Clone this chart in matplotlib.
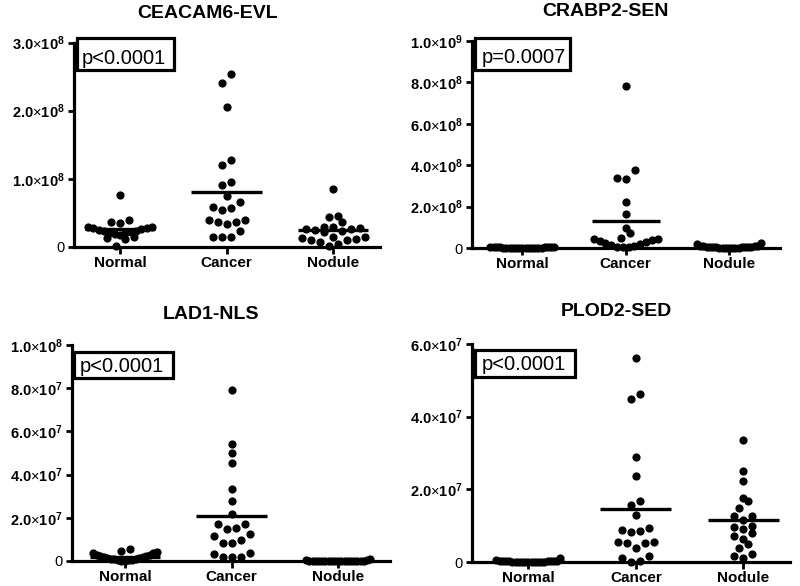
import numpy as np
import matplotlib
matplotlib.use('Agg')
import matplotlib.pyplot as plt
from matplotlib.patches import Rectangle
from matplotlib.ticker import FuncFormatter

plt.rcParams['font.family'] = ['Liberation Sans', 'DejaVu Sans']
plt.rcParams['mathtext.fontset'] = 'custom'
plt.rcParams['mathtext.rm'] = 'Liberation Sans'
plt.rcParams['mathtext.bf'] = 'Liberation Sans:bold'

### data
groups = ['Normal', 'Cancer', 'Nodule']
titles = ['CEACAM6-EVL', 'CRABP2-SEN', 'LAD1-NLS', 'PLOD2-SED']
pvals = ['p<0.0001', 'p=0.0007', 'p<0.0001', 'p<0.0001']

# CEACAM6-EVL, x1e8
ceacam_normal = [0.76, 0.40, 0.37, 0.35, 0.30, 0.29, 0.28, 0.28, 0.27, 0.25, 0.24,
                 0.23, 0.22, 0.21, 0.20, 0.19, 0.17, 0.15, 0.13, 0.12, 0.02]
ceacam_cancer = [2.54, 2.41, 2.05, 1.27, 1.20, 0.96, 0.91, 0.75, 0.66, 0.58, 0.57,
                 0.54, 0.40, 0.39, 0.36, 0.36, 0.34, 0.23, 0.14, 0.14, 0.14]
ceacam_nodule = [0.85, 0.46, 0.44, 0.36, 0.30, 0.29, 0.28, 0.27, 0.26, 0.25, 0.24,
                 0.22, 0.15, 0.14, 0.13, 0.12, 0.11, 0.10, 0.08, 0.05, 0.01]

# CRABP2-SEN, x1e8
crabp_normal = [0.06, 0.05, 0.05, 0.04, 0.04, 0.03, 0.03, 0.03, 0.02, 0.02, 0.02,
                0.02, 0.01, 0.01, 0.01, 0.01, 0.01, 0.01, 0.00, 0.00, 0.00]
crabp_cancer = [7.85, 3.75, 3.38, 3.32, 2.22, 1.65, 0.98, 0.74, 0.48, 0.45, 0.42,
                0.40, 0.35, 0.30, 0.25, 0.20, 0.15, 0.10, 0.07, 0.05, 0.03]
crabp_nodule = [0.25, 0.20, 0.12, 0.10, 0.09, 0.08, 0.07, 0.06, 0.05, 0.05, 0.04,
                0.04, 0.03, 0.03, 0.02, 0.02, 0.02, 0.01, 0.01, 0.01, 0.00]

# LAD1-NLS, x1e7
lad_normal = [0.55, 0.45, 0.42, 0.38, 0.35, 0.30, 0.28, 0.25, 0.22, 0.20, 0.18,
              0.15, 0.12, 0.10, 0.08, 0.07, 0.06, 0.05, 0.04, 0.02, 0.01]
lad_cancer = [7.90, 5.43, 5.00, 4.54, 3.34, 2.77, 2.17, 1.69, 1.69, 1.55, 1.46,
              1.25, 1.15, 0.97, 0.85, 0.85, 0.38, 0.31, 0.20, 0.20, 0.20]
lad_nodule = [0.10, 0.03, 0.03, 0.02, 0.02, 0.02, 0.02, 0.01, 0.01, 0.01, 0.01,
              0.01, 0.01, 0.01, 0.00, 0.00, 0.00, 0.00, 0.00, 0.00, 0.00]

# PLOD2-SED, x1e7
plod_normal = [0.10, 0.05, 0.04, 0.03, 0.03, 0.03, 0.02, 0.02, 0.02, 0.02, 0.01,
               0.01, 0.01, 0.01, 0.01, 0.00, 0.00, 0.00, 0.00, 0.00, 0.00]
plod_cancer = [5.62, 4.63, 4.49, 2.90, 2.37, 1.67, 1.57, 1.30, 0.94, 0.87, 0.85,
               0.82, 0.56, 0.54, 0.52, 0.52, 0.38, 0.17, 0.10, 0.03, 0.01]
plod_nodule = [3.35, 2.50, 2.24, 1.76, 1.69, 1.48, 1.27, 1.16, 1.27, 0.95, 0.90,
               1.00, 0.79, 0.72, 0.63, 0.49, 0.38, 0.22, 0.12, 0.17]

scales = [1e8, 1e8, 1e7, 1e7]
ymax = [3e8, 1e9, 1e8, 6e7]
ystep = [1e8, 2e8, 2e7, 2e7]

panel_data = [
    [ceacam_normal, ceacam_cancer, ceacam_nodule],
    [crabp_normal, crabp_cancer, crabp_nodule],
    [lad_normal, lad_cancer, lad_nodule],
    [plod_normal, plod_cancer, plod_nodule],
]

### layout, in pixels of the 800x586 figure
W, H = 800, 586
axes_px = [(74, 380, 42.5, 247), (472, 780, 41, 248),
           (72, 390, 345, 561), (472, 790, 344, 562)]
xlims = [(-0.432, 2.441), (-0.489, 2.494), (-0.497, 2.485), (-0.524, 2.434)]
title_px = [(208, 14), (605.5, 11), (211, 314.5), (616, 312)]
box_px = [(77, 38, 174, 70), (475, 38, 570, 70), (74, 352, 173, 378), (475, 350, 575, 377)]
ptext_px = [(82, 63.5), (481.5, 63), (80, 371.5), (481.5, 370.5)]


def sci_label(v, pos):
    if v == 0:
        return '0'
    e = int(np.floor(np.log10(v) + 1e-9))
    m = v / 10 ** e
    return r'$\mathbf{%.1f}{\times}\mathbf{10^{%d}}$' % (m, e)


def swarm(vals, ppu_y, ppu_x, row_h=9.0, step=9.0, max_span=64.0):
    # GraphPad-like rows: close values share a row, smallest in the middle
    vals = np.asarray(vals, float)
    order = np.argsort(vals, kind='stable')
    ypx = vals * ppu_y
    offs = np.zeros(len(vals))
    i = 0
    while i < len(order):
        start = ypx[order[i]]
        j = i
        while j < len(order) and ypx[order[j]] - start < row_h:
            j += 1
        row = order[i:j]
        n = len(row)
        sp = step if n < 2 else min(step, max_span / (n - 1))
        slots = (np.arange(n) - (n - 1) / 2) * sp
        slot_order = np.argsort(np.round(np.abs(slots), 6), kind='stable')
        for k, idx in enumerate(row):
            offs[idx] = slots[slot_order[k]]
        i = j
    return offs / ppu_x


fig = plt.figure(figsize=(W / 100, H / 100), dpi=100)

for p in range(4):
    x0, x1, yt, yb = axes_px[p]
    ax = fig.add_axes([x0 / W, 1 - yb / H, (x1 - x0) / W, (yb - yt) / H])
    ax.set_xlim(*xlims[p])
    ax.set_ylim(0, ymax[p])

    # pixels per data unit, for the dot layout
    o = ax.transData.transform((0, 0))
    u = ax.transData.transform((1, scales[p]))
    ppu_x = u[0] - o[0]
    ppu_y = (u[1] - o[1]) / scales[p]

    for g, vals in enumerate(panel_data[p]):
        v = np.array(vals) * scales[p]
        xs = g + swarm(v, ppu_y, ppu_x)
        ax.plot(xs, v, 'o', color='black', markersize=4.9, clip_on=False, zorder=4)
        ax.plot([g - 0.33, g + 0.33], [v.mean(), v.mean()], color='black',
                lw=2.4, solid_capstyle='butt', clip_on=False, zorder=3)

    for side in ['top', 'right']:
        ax.spines[side].set_visible(False)
    for side in ['left', 'bottom']:
        ax.spines[side].set_linewidth(2.3)
    ax.set_yticks(np.arange(0, ymax[p] + ystep[p] / 2, ystep[p]))
    ax.yaxis.set_major_formatter(FuncFormatter(sci_label))
    ax.set_xticks(range(3))
    ax.set_xticklabels(groups, fontweight='bold')
    ax.tick_params(axis='y', direction='out', length=4, width=2, pad=3, labelsize=10.5)
    ax.tick_params(axis='x', direction='out', length=5, width=2, pad=1.5, labelsize=11)
    ax.patch.set_visible(False)

    tx, ty = title_px[p]
    fig.text(tx / W, 1 - ty / H, titles[p], ha='center', va='center',
             fontsize=14, fontweight='bold')

    bx0, by0, bx1, by1 = box_px[p]
    fig.patches.append(Rectangle((bx0 / W, 1 - by1 / H), (bx1 - bx0) / W, (by1 - by0) / H,
                                 transform=fig.transFigure, facecolor='white',
                                 edgecolor='black', linewidth=2.3, zorder=5))
    px, py = ptext_px[p]
    fig.text(px / W, 1 - py / H, pvals[p], ha='left', va='baseline', fontsize=14.5, zorder=6)

plt.savefig('out.png', dpi=100)
plt.close()
